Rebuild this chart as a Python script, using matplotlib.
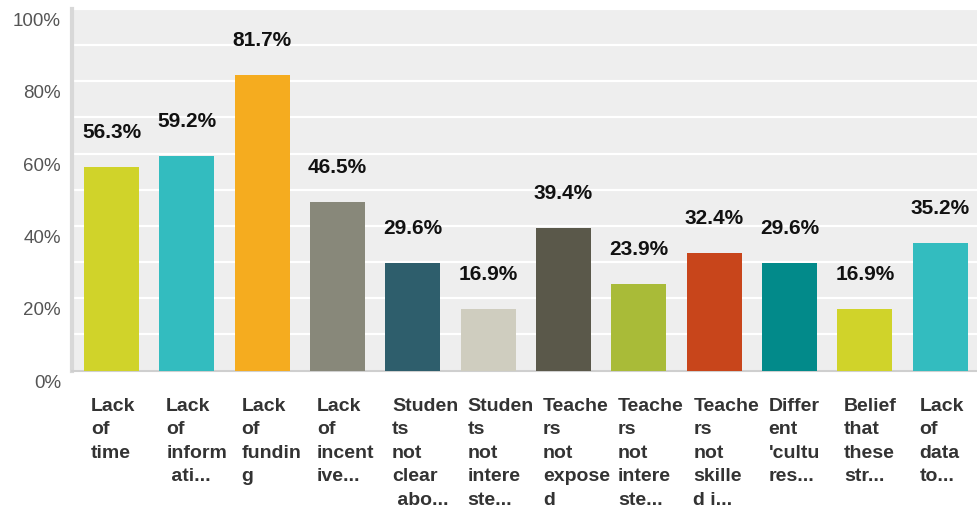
import matplotlib.pyplot as plt
from matplotlib.ticker import MultipleLocator

plt.rcParams["font.family"] = ["Liberation Sans", "DejaVu Sans"]

labels = [
    "Lack\nof\ntime",
    "Lack\nof\ninform\n ati...",
    "Lack\nof\nfundin\ng",
    "Lack\nof\nincent\nive...",
    "Studen\nts\nnot\nclear\n abo...",
    "Studen\nts\nnot\nintere\nste...",
    "Teache\nrs\nnot\nexpose\nd",
    "Teache\nrs\nnot\nintere\nste...",
    "Teache\nrs\nnot\nskille\nd i...",
    "Differ\nent\n'cultu\nres...",
    "Belief\nthat\nthese\nstr...",
    "Lack\nof\ndata\nto...",
]
values = [56.3, 59.2, 81.7, 46.5, 29.6, 16.9, 39.4, 23.9, 32.4, 29.6, 16.9, 35.2]
colors = [
    "#d0d32a", "#33bcbf", "#f5ac1f", "#88887a", "#2e5e6c", "#cfcdbf",
    "#5a584a", "#a9bb38", "#c8451b", "#028a8a", "#d0d32a", "#33bcbf",
]
y_ticks = [0, 20, 40, 60, 80, 100]

fig = plt.figure(figsize=(9.77, 5.07), dpi=100)
ax = fig.add_axes([72 / 977, 136.5 / 507, 905 / 977, 361.5 / 507])
ax.set_facecolor("#eeeeee")

x = range(len(values))
bar_w = 0.73
ax.bar(x, values, width=bar_w, color=colors, zorder=3)

for i, v in enumerate(values):
    ax.annotate(f"{v:.1f}%", (i, v), xytext=(0, 18), textcoords="offset points",
                ha="center", va="bottom", fontsize=15, fontweight="bold",
                color="#111111", zorder=4)

ax.set_xlim(-0.525, 11.49)
ax.set_ylim(0, 100)
ax.yaxis.set_major_locator(MultipleLocator(20))
ax.yaxis.set_minor_locator(MultipleLocator(10))
ax.grid(axis="y", which="both", color="white", linewidth=1.6, zorder=1)
ax.tick_params(axis="y", which="both", length=0, labelleft=False)
ax.set_xticks([])

# y labels sit a little below their gridlines
for t in y_ticks:
    ax.annotate(f"{t}%", (0, t), xycoords=("axes fraction", "data"),
                xytext=(-8, -3), textcoords="offset points",
                ha="right", va="top", fontsize=13.5, color="#555555",
                annotation_clip=False)

for i, lab in enumerate(labels):
    ax.text(i - bar_w / 2 + 0.09, -7.6, lab, ha="left", va="top",
            fontsize=14, fontweight="bold", color="#333333",
            linespacing=1.5, clip_on=False)

for side in ("top", "right"):
    ax.spines[side].set_visible(False)
ax.spines["left"].set_color("#d8d8d8")
ax.spines["left"].set_linewidth(3)
ax.spines["bottom"].set_color("#cfcfcf")
ax.spines["bottom"].set_linewidth(1.5)

fig.savefig("out.png", dpi=100)
